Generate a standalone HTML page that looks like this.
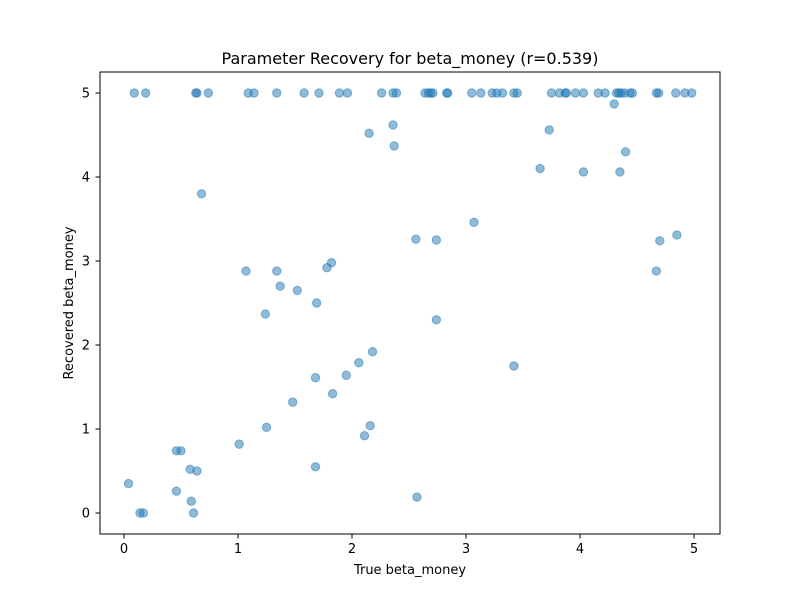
<!DOCTYPE html>
<html><head><meta charset="utf-8"><style>
body{margin:0;background:#fff;}
svg text{font-family:"DejaVu Sans","Liberation Sans",sans-serif;fill:#000;}
</style></head><body>
<svg id="chart" width="800" height="600" viewBox="0 0 800 600" xmlns="http://www.w3.org/2000/svg">
<rect width="800" height="600" fill="#fff"/>
<text x="410" y="64" font-size="16" text-anchor="middle">Parameter Recovery for beta_money (r=0.539)</text>
<g id="marks"></g>
<g id="axes"></g>
<rect x="100" y="72" width="620" height="462" fill="none" stroke="#000" stroke-width="1"/>
<text x="410" y="574" font-size="13" text-anchor="middle">True beta_money</text>
<text transform="translate(73,303) rotate(-90)" font-size="13" text-anchor="middle">Recovered beta_money</text>
</svg>
<script>
const topX=[0.09,0.19,0.63,0.64,0.74,1.09,1.14,1.34,1.58,1.71,1.89,1.96,2.26,2.36,2.39,2.64,2.67,2.69,2.71,2.83,2.84,3.05,3.13,3.23,3.27,3.32,3.42,3.45,3.75,3.82,3.87,3.88,3.96,4.03,4.16,4.22,4.32,4.34,4.36,4.39,4.44,4.46,4.67,4.69,4.84,4.92,4.98];
const otherX=[0.04,0.14,0.17,0.46,0.50,0.46,0.58,0.59,0.64,0.61,0.68,1.01,1.07,1.25,1.24,1.34,1.37,1.48,1.52,1.68,1.69,1.68,1.78,1.82,1.83,1.95,2.06,2.11,2.16,2.18,2.15,2.36,2.37,2.56,2.57,2.74,2.74,3.07,3.42,3.65,3.73,4.03,4.30,4.35,4.40,4.67,4.70,4.85];
const otherY=[0.35,0,0,0.74,0.74,0.26,0.52,0.14,0.50,0,3.80,0.82,2.88,1.02,2.37,2.88,2.70,1.32,2.65,1.61,2.50,0.55,2.92,2.98,1.42,1.64,1.79,0.92,1.04,1.92,4.52,4.62,4.37,3.26,0.19,3.25,2.30,3.46,1.75,4.10,4.56,4.06,4.87,4.06,4.30,2.88,3.24,3.31];
const xTicks=[0,1,2,3,4,5];
const yTicks=[0,1,2,3,4,5];
const xs=v=>124+v*114;
const ys=v=>513-v*84;
const NS="http://www.w3.org/2000/svg";
const marks=document.getElementById('marks');
const xsAll=topX.concat(otherX);
const ysAll=topX.map(()=>5).concat(otherY);
xsAll.forEach((x,i)=>{
  const c=document.createElementNS(NS,'circle');
  c.setAttribute('cx',xs(x));c.setAttribute('cy',ys(ysAll[i]));c.setAttribute('r',4.2);
  c.setAttribute('fill','#1f77b4');c.setAttribute('fill-opacity','0.5');
  c.setAttribute('stroke','#1f77b4');c.setAttribute('stroke-opacity','0.5');c.setAttribute('stroke-width','1');
  
  
  marks.appendChild(c);
});
const axes=document.getElementById('axes');
xTicks.forEach(t=>{
  const l=document.createElementNS(NS,'line');
  l.setAttribute('x1',xs(t));l.setAttribute('x2',xs(t));l.setAttribute('y1',534);l.setAttribute('y2',538.5);l.setAttribute('stroke','#000');
  
  
  axes.appendChild(l);
  const tx=document.createElementNS(NS,'text');
  tx.setAttribute('x',xs(t));tx.setAttribute('y',553);tx.setAttribute('font-size','13');tx.setAttribute('text-anchor','middle');
  tx.textContent=t;
  
  
  axes.appendChild(tx);
});
yTicks.forEach(t=>{
  const l=document.createElementNS(NS,'line');
  l.setAttribute('x1',95.5);l.setAttribute('x2',100);l.setAttribute('y1',ys(t));l.setAttribute('y2',ys(t));l.setAttribute('stroke','#000');
  
  
  axes.appendChild(l);
  const tx=document.createElementNS(NS,'text');
  tx.setAttribute('x',90);tx.setAttribute('y',ys(t)+4.5);tx.setAttribute('font-size','13');tx.setAttribute('text-anchor','end');
  tx.textContent=t;
  
  
  axes.appendChild(tx);
});
</script>
</body></html>
